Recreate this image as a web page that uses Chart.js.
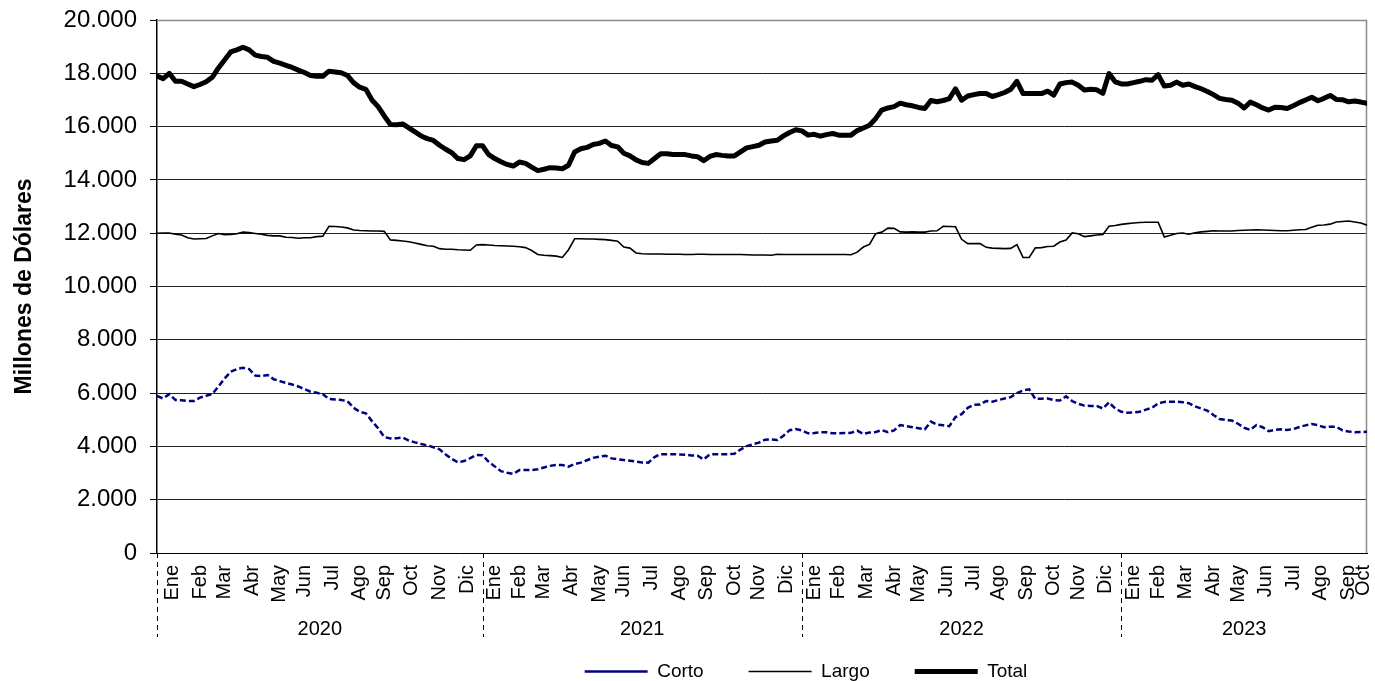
<!DOCTYPE html>
<html>
<head>
<meta charset="utf-8">
<script src="https://cdn.jsdelivr.net/npm/chart.js@4.4.0/dist/chart.umd.min.js"></script>
<style>
  html, body { margin: 0; padding: 0; background: #fff; }
  #wrap { width: 1375px; height: 681px; }
</style>
</head>
<body>
<div id="wrap"><canvas id="myChart" width="1375" height="681"></canvas></div>
<script>
// weekly values, Jan 2020 - Oct 2023 (millones de dolares)
const corto = [
  5890, 5800, 5960, 5740, 5730, 5710, 5700, 5830, 5900, 5960,
  6250, 6550, 6800, 6900, 6950, 6900, 6660, 6640, 6680, 6520,
  6450, 6380, 6320, 6250, 6150, 6050, 6010, 5960, 5780, 5760,
  5740, 5700, 5450, 5300, 5240, 4950, 4680, 4350, 4300, 4310,
  4330, 4220, 4150, 4090, 4040, 3970, 3890, 3700, 3530, 3400,
  3450, 3560, 3680, 3670, 3420, 3250, 3070, 3010, 2970, 3110,
  3110, 3110, 3140, 3210, 3270, 3300, 3300, 3240, 3340, 3390,
  3480, 3570, 3610, 3650, 3550, 3520, 3490, 3460, 3430, 3400,
  3390, 3600, 3710, 3710, 3710, 3700, 3690, 3660, 3650, 3510,
  3700, 3710, 3710, 3710, 3720, 3880, 4010, 4080, 4140, 4250,
  4260, 4240, 4400, 4610, 4650, 4600, 4490, 4500, 4530, 4530,
  4490, 4490, 4500, 4510, 4590, 4470, 4520, 4540, 4610, 4530,
  4600, 4800, 4760, 4720, 4680, 4640, 4930, 4820, 4790, 4760,
  5100, 5210, 5450, 5560, 5570, 5700, 5680, 5740, 5800, 5850,
  6000, 6100, 6140, 5780, 5790, 5800, 5740, 5720, 5880, 5700,
  5600, 5530, 5520, 5520, 5420, 5650, 5420, 5300, 5260, 5280,
  5300, 5380, 5450, 5610, 5670, 5680, 5680, 5660, 5620, 5500,
  5420, 5340, 5180, 5030, 4990, 4970, 4850, 4700, 4620, 4800,
  4720, 4570, 4620, 4640, 4620, 4650, 4730, 4790, 4840, 4800,
  4720, 4740, 4740, 4600, 4560, 4530, 4540, 4550
];
const largo = [
  12000, 12010, 12010, 11960, 11930, 11830, 11780, 11790, 11800, 11900,
  11990, 11940, 11950, 11980, 12040, 12020, 11990, 11960, 11920, 11900,
  11900, 11850, 11840, 11810, 11830, 11830, 11870, 11890, 12260, 12250,
  12230, 12200, 12120, 12100, 12090, 12080, 12080, 12070, 11750, 11730,
  11710, 11680, 11630, 11580, 11530, 11510, 11420, 11400, 11400, 11380,
  11370, 11360, 11560, 11570, 11560, 11540, 11530, 11520, 11510, 11490,
  11460, 11350, 11200, 11170, 11160, 11140, 11090, 11380, 11790, 11790,
  11780, 11780, 11770, 11760, 11730, 11700, 11480, 11440, 11260, 11230,
  11220, 11220, 11220, 11210, 11210, 11210, 11200, 11200, 11210, 11210,
  11200, 11200, 11200, 11200, 11200, 11200, 11190, 11180, 11180, 11180,
  11170, 11210, 11200, 11200, 11200, 11200, 11200, 11200, 11200, 11200,
  11200, 11200, 11200, 11190, 11290, 11480, 11580, 11980, 12040, 12190,
  12180, 12050, 12040, 12050, 12040, 12040, 12080, 12090, 12260, 12250,
  12240, 11770, 11610, 11610, 11610, 11470, 11440, 11430, 11420, 11430,
  11570, 11090, 11090, 11450, 11460, 11500, 11510, 11670, 11740, 12010,
  11980, 11870, 11900, 11930, 11950, 12260, 12290, 12330, 12360, 12380,
  12400, 12410, 12410, 12410, 11860, 11920, 11990, 12010, 11960, 12020,
  12050, 12070, 12090, 12080, 12080, 12080, 12100, 12110, 12120, 12130,
  12120, 12110, 12100, 12090, 12090, 12110, 12130, 12140, 12220, 12300,
  12310, 12340, 12420, 12440, 12460, 12420, 12380, 12300
];
const total = [
  17900, 17800, 18000, 17700, 17700, 17600, 17500, 17580, 17680, 17850,
  18200, 18500, 18800, 18880, 18980, 18880, 18680, 18630, 18600, 18450,
  18380, 18300, 18220, 18120, 18030, 17920, 17890, 17890, 18080, 18050,
  18020, 17920, 17650, 17480, 17400, 17000, 16750, 16400, 16080, 16070,
  16100, 15950, 15800, 15650, 15550, 15480, 15300, 15150, 15020, 14800,
  14760, 14900, 15280, 15280, 14950, 14800, 14680, 14580, 14520, 14670,
  14620, 14480, 14350, 14400, 14460, 14450, 14420, 14550, 15050, 15170,
  15220, 15330, 15370, 15460, 15290, 15240, 15000, 14900, 14750, 14650,
  14620, 14800, 14980, 14980, 14950, 14950, 14950, 14900, 14870, 14720,
  14880, 14950, 14920, 14900, 14900, 15050, 15200, 15250, 15300, 15420,
  15460, 15490, 15650, 15780, 15880, 15840, 15680, 15710, 15640, 15700,
  15740, 15680, 15680, 15680, 15850, 15950, 16050, 16300, 16620, 16700,
  16750, 16880, 16820, 16780, 16720, 16680, 16980, 16930, 16980, 17050,
  17420, 16990, 17150, 17200, 17240, 17240, 17130, 17200, 17280, 17400,
  17700, 17240, 17240, 17240, 17240, 17330, 17180, 17600, 17650, 17670,
  17550, 17370, 17400, 17380, 17250, 17990, 17680, 17600, 17600, 17650,
  17700, 17760, 17740, 17950, 17520, 17550, 17670, 17550, 17600, 17500,
  17420, 17320, 17200, 17060, 17020, 16990, 16880, 16700, 16920, 16820,
  16700, 16620, 16730, 16720, 16680, 16780, 16900, 17000, 17100, 16970,
  17060, 17170, 17020, 17010, 16930, 16960, 16920, 16870
];

const monthNames = ['Ene','Feb','Mar','Abr','May','Jun','Jul','Ago','Sep','Oct','Nov','Dic'];
// index of first week of each month
const monthStarts = [
  0, 5, 9, 13, 18, 22, 26, 31, 35, 39, 44, 48,
  53, 57, 61, 65, 70, 74, 78, 83, 87, 92, 96, 100,
  105, 109, 113, 118, 122, 126, 131, 135, 139, 144, 148, 152,
  157, 161, 165, 170, 174, 178, 183, 187, 192, 196
];
const years = ['2020', '2021', '2022', '2023'];
const yearStarts = [0, 53, 105, 157];

const weeks = total.map((v, i) => i);
const lastIdx = weeks.length - 1;

// month labels sit in the middle of their group
const tickPos = monthStarts.map((s, i) => (s + (i + 1 < monthStarts.length ? monthStarts[i + 1] : lastIdx)) / 2);
const tickText = monthStarts.map((s, i) => monthNames[i % 12]);

const fontFam = "'Liberation Sans', Arial, sans-serif";

function fmt(v) {
  return String(v).replace(/\B(?=(\d{3})+(?!\d))/g, '.');
}

const framePlugin = {
  id: 'frame',
  afterLayout(chart) {
    // excel legend is not centred on the page
    const lg = chart.legend;
    const dx = 806 - (lg.left + lg.right) / 2;
    lg.left += dx; lg.right += dx;
    lg.top += 10; lg.bottom += 10;
  },
  beforeDatasetsDraw(chart) {
    const {ctx, chartArea: a} = chart;
    ctx.save();
    ctx.strokeStyle = '#8c8c8c';
    ctx.lineWidth = 1.5;
    ctx.beginPath();
    ctx.moveTo(a.left, a.top + 0.5);
    ctx.lineTo(a.right - 0.5, a.top + 0.5);
    ctx.lineTo(a.right - 0.5, a.bottom);
    ctx.stroke();
    ctx.restore();
  },
  afterDraw(chart) {
    const {ctx, chartArea: a} = chart;
    const xs = chart.scales.x;
    ctx.save();
    ctx.strokeStyle = '#000';
    ctx.lineWidth = 1;
    ctx.setLineDash([5, 4]);
    yearStarts.forEach(s => {
      const px = Math.round(xs.getPixelForValue(s)) + 0.5;
      ctx.beginPath();
      ctx.moveTo(px, a.bottom);
      ctx.lineTo(px, a.bottom + 84);
      ctx.stroke();
    });
    ctx.setLineDash([]);
    ctx.fillStyle = '#000';
    ctx.font = '20px ' + fontFam;
    ctx.textAlign = 'center';
    ctx.textBaseline = 'middle';
    years.forEach((y, i) => {
      const end = i + 1 < yearStarts.length ? yearStarts[i + 1] : lastIdx;
      const px = xs.getPixelForValue((yearStarts[i] + end) / 2);
      ctx.fillText(y, px, a.bottom + 76);
    });
    ctx.restore();
  }
};

const ctx = document.getElementById('myChart').getContext('2d');
const myChart = new Chart(ctx, {
  type: 'line',
  data: {
    labels: weeks,
    datasets: [
      {
        label: 'Corto',
        data: corto,
        borderColor: '#000080',
        backgroundColor: '#000080',
        borderWidth: 2.5,
        borderDash: [6, 3],
        pointRadius: 0,
        tension: 0
      },
      {
        label: 'Largo',
        data: largo,
        borderColor: '#000',
        backgroundColor: '#000',
        borderWidth: 1.6,
        pointRadius: 0,
        tension: 0
      },
      {
        label: 'Total',
        data: total,
        borderColor: '#000',
        backgroundColor: '#000',
        borderWidth: 5,
        borderCapStyle: 'round',
        borderJoinStyle: 'round',
        pointRadius: 0,
        tension: 0
      }
    ]
  },
  options: {
    responsive: false,
    animation: false,
    devicePixelRatio: 1,
    layout: { padding: { left: 0, right: 8, top: 20, bottom: 0 } },
    plugins: {
      tooltip: { enabled: false },
      legend: {
        position: 'bottom',
        labels: {
          usePointStyle: true,
          pointStyle: 'line',
          pointStyleWidth: 63,
          padding: 45,
          color: '#000',
          font: { family: fontFam, size: 19 }
        }
      }
    },
    scales: {
      x: {
        type: 'linear',
        min: 0,
        max: lastIdx,
        grid: { display: false, drawTicks: false },
        border: { display: true, color: '#000', width: 1, dash: [5, 3] },
        afterBuildTicks(axis) {
          axis.ticks = tickPos.map(v => ({ value: v }));
        },
        afterFit(axis) {
          axis.height = 54;
          axis.paddingLeft = 0;
          axis.paddingRight = 0;
        },
        ticks: {
          autoSkip: false,
          minRotation: 90,
          maxRotation: 90,
          padding: 12,
          color: '#000',
          font: { family: fontFam, size: 20 },
          callback: (val, i) => tickText[i]
        }
      },
      y: {
        min: 0,
        max: 20000,
        afterFit(axis) {
          axis.width = 157;
          axis.paddingTop = 0;
          axis.paddingBottom = 0;
        },
        ticks: {
          stepSize: 2000,
          padding: 13,
          color: '#000',
          font: { family: fontFam, size: 24 },
          callback: v => fmt(v)
        },
        grid: {
          color: c => (c.tick && (c.tick.value === 0 || c.tick.value === 20000)) ? '#8c8c8c' : '#222',
          tickColor: '#000',
          tickLength: 7,
          lineWidth: 1
        },
        border: { display: true, color: '#000', width: 1.5 },
        title: {
          display: true,
          text: 'Millones de Dólares',
          color: '#000',
          font: { family: fontFam, size: 23, weight: 'bold' },
          padding: { top: 11, bottom: 0 }
        }
      }
    }
  },
  plugins: [framePlugin]
});
</script>
</body>
</html>
